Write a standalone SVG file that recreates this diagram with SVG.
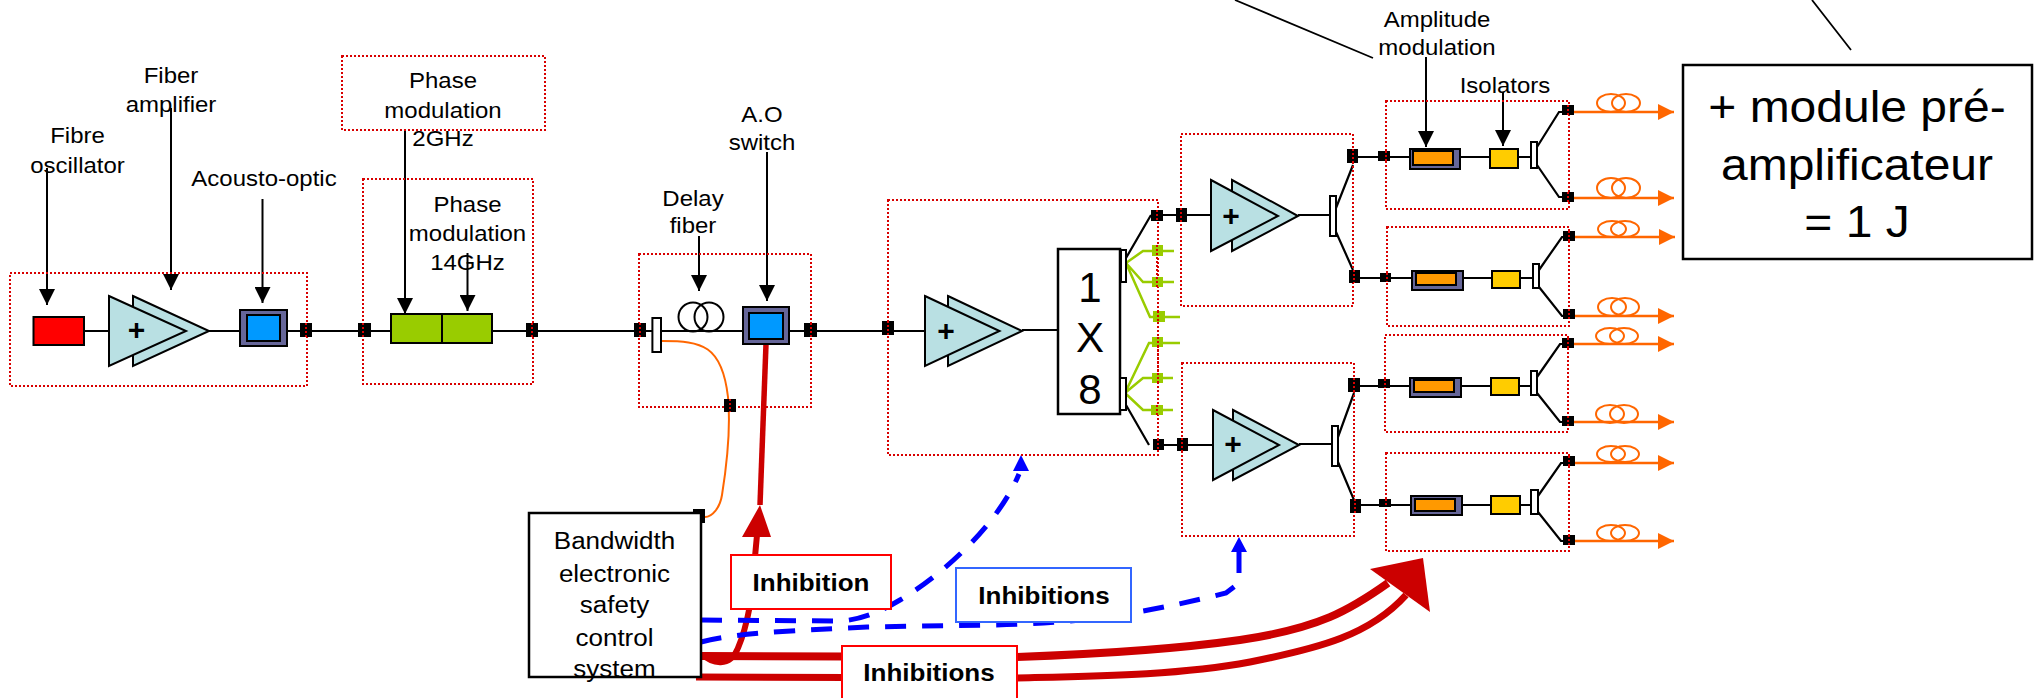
<svg xmlns="http://www.w3.org/2000/svg" width="2034" height="698" viewBox="0 0 2034 698">
<defs>
<marker id="ah" markerUnits="userSpaceOnUse" markerWidth="16" markerHeight="16" refX="16" refY="8" orient="auto"><path d="M0,0L16,8L0,16Z" fill="#000"/></marker>
<marker id="oh" markerUnits="userSpaceOnUse" markerWidth="16" markerHeight="16" refX="16" refY="8" orient="auto"><path d="M0,0L16,8L0,16Z" fill="#ff6600"/></marker>
<style>
text{font-family:"Liberation Sans",Arial,sans-serif;fill:#000;text-anchor:middle}
.t{font-size:24px}.c{font-size:26px}.b{font-size:26px;font-weight:bold}.n{font-size:48px}.x{font-size:42px}
.plus{font-size:30px;font-weight:bold}
.dot{fill:none;stroke:#d80000;stroke-width:2;stroke-dasharray:2 2}
.ln{fill:none;stroke:#000;stroke-width:2.2}
.thin{fill:none;stroke:#000;stroke-width:1.8}
.arr{fill:none;stroke:#000;stroke-width:2;marker-end:url(#ah)}
.gl{fill:none;stroke:#99cc00;stroke-width:2.5}
.oa{fill:none;stroke:#ff6600;stroke-width:2.5;marker-end:url(#oh)}
.coil{fill:none;stroke:#ff6600;stroke-width:2}
.bc{fill:none;stroke:#000;stroke-width:2}
.sq{fill:#000}.gs{fill:#99cc00}
.amp{fill:#b9e0e3;stroke:#000;stroke-width:2}
.cp{fill:#fff;stroke:#000;stroke-width:2}
.frame{fill:#666699;stroke:#000;stroke-width:2}
.blue{fill:#0099ff;stroke:#000;stroke-width:2}
.org{fill:#ff9900;stroke:#000;stroke-width:2}
.yel{fill:#ffcc00;stroke:#000;stroke-width:2}
.grn{fill:#99cc00;stroke:#000;stroke-width:2}
.red{fill:#ff0000;stroke:#000;stroke-width:2}
.box{fill:#fff;stroke:#000;stroke-width:2.5}
.rb{fill:#fff;stroke:#ff0000;stroke-width:2}
.bb{fill:#fff;stroke:#3366ff;stroke-width:2}
.dr{fill:none;stroke:#cc0000}
.db{fill:none;stroke:#0000ff;stroke-width:5;stroke-dasharray:21 16}
</style>
</defs>
<g id="connectors">
<path class="ln" d="M84,331H109M209,331H240M287,331H391M492,331H652M661,331H743M789,331H925M1022,330H1058M1163,215H1211M1164,445H1213"/>
<path class="ln" d="M1298,215H1330M1299,444H1332M1358,157H1410M1460,157H1490M1518,157H1531M1360,278H1412M1463,278H1492M1520,278H1533M1360,386H1410M1461,386H1491M1519,386H1531M1361,505H1411M1462,505H1491M1520,505H1531"/>
<path class="ln" d="M1126,258L1151,215M1126,405L1149,445M1336,208L1353,165M1336,232L1353,270M1338,437L1354,393M1338,462L1354,500"/>
<path class="ln" d="M1537,147L1559,112H1568M1537,165L1559,197H1568M1539,270L1562,237H1569M1539,287L1562,316H1569M1537,377L1560,344H1568M1537,393L1560,422H1568M1538,496L1561,463H1569M1538,512L1561,541H1569"/>
<path class="gl" d="M1126,263L1143,251H1174M1126,263L1143,282H1174M1126,263L1150,317H1180M1125,393L1149,343H1180M1125,393L1143,378H1173M1125,393L1143,410H1173"/>
<path class="oa" d="M1574,112H1674"/><path class="oa" d="M1574,198H1674"/>
<path class="oa" d="M1575,237H1675"/><path class="oa" d="M1575,316H1674"/>
<path class="oa" d="M1574,344H1674"/><path class="oa" d="M1574,422H1674"/>
<path class="oa" d="M1575,463H1674"/><path class="oa" d="M1575,541H1674"/>
<ellipse class="coil" cx="1611" cy="103" rx="14" ry="9"/><ellipse class="coil" cx="1626" cy="103" rx="14" ry="9"/>
<ellipse class="coil" cx="1611" cy="188" rx="14" ry="10"/><ellipse class="coil" cx="1626" cy="188" rx="14" ry="10"/>
<ellipse class="coil" cx="1612" cy="229" rx="14" ry="8"/><ellipse class="coil" cx="1625" cy="229" rx="14" ry="8"/>
<ellipse class="coil" cx="1612" cy="307" rx="14" ry="9"/><ellipse class="coil" cx="1625" cy="307" rx="14" ry="9"/>
<ellipse class="coil" cx="1610" cy="336" rx="14" ry="8"/><ellipse class="coil" cx="1624" cy="336" rx="14" ry="8"/>
<ellipse class="coil" cx="1610" cy="414" rx="14" ry="9"/><ellipse class="coil" cx="1624" cy="414" rx="14" ry="9"/>
<ellipse class="coil" cx="1611" cy="454" rx="14" ry="8"/><ellipse class="coil" cx="1625" cy="454" rx="14" ry="8"/>
<ellipse class="coil" cx="1611" cy="533" rx="14" ry="8"/><ellipse class="coil" cx="1625" cy="533" rx="14" ry="8"/>
<path d="M662,341C702,341 722,345 728,397C731,430 726,470 722,495C720,508 712,517 705,517" fill="none" stroke="#ff6600" stroke-width="2"/>
<path class="dr" stroke-width="5.5" d="M766,344L760,505"/>
<path class="dr" stroke-width="6" d="M702,654C712,664 730,668 738,648C746,630 749,610 751,600L757,535"/>
<path d="M760,505L771,537H742Z" fill="#cc0000"/>
<path class="dr" stroke-width="8" d="M701,656L1017,657C1100,654 1170,650 1240,640C1320,628 1350,610 1388,583"/>
<path class="dr" stroke-width="7" d="M696,677L1017,678C1100,676 1180,675 1250,662C1320,648 1370,635 1406,595"/>
<path d="M1370,569L1423,558L1430,612Z" fill="#cc0000"/>
<path class="db" d="M701,620L840,621C860,620 880,612 900,600C950,570 1000,520 1019,474"/>
<path d="M1021,455L1029,471H1013Z" fill="#0000ff"/>
<path class="db" d="M701,642C730,634 780,631 867,627L990,625C1080,624 1150,612 1226,593L1239,583V552"/>
<path d="M1239,537L1247,552H1231Z" fill="#0000ff"/>
<path class="thin" d="M1235,0L1373,58M1812,0L1851,50"/>
<path class="arr" d="M47,168V305"/><path class="arr" d="M171,108V290"/><path class="arr" d="M262.5,199V303"/>
<path class="arr" d="M405,130V314"/><path class="arr" d="M467.5,253V311"/><path class="arr" d="M699,236V291"/>
<path class="arr" d="M767,152V301"/><path class="arr" d="M1426,57V147"/><path class="arr" d="M1503,92V146"/>
</g>
<g id="labels">
<text class="t" transform="translate(77.5 143) scale(1 .92)">Fibre</text><text class="t" transform="translate(77.5 173) scale(1 .92)">oscillator</text>
<text class="t" transform="translate(171 83) scale(1 .92)">Fiber</text><text class="t" transform="translate(171 112) scale(1 .92)">amplifier</text>
<text class="t" transform="translate(264 186) scale(1 .92)">Acousto-optic</text>
<text class="t" transform="translate(443 88) scale(1 .92)">Phase</text><text class="t" transform="translate(443 118) scale(1 .92)">modulation</text><text class="t" transform="translate(443 146) scale(1 .92)">2GHz</text>
<text class="t" transform="translate(467.5 212) scale(1 .92)">Phase</text><text class="t" transform="translate(467.5 241) scale(1 .92)">modulation</text><text class="t" transform="translate(467.5 270) scale(1 .92)">14GHz</text>
<text class="t" transform="translate(693 206) scale(1 .92)">Delay</text><text class="t" transform="translate(693 233) scale(1 .92)">fiber</text>
<text class="t" transform="translate(762 122) scale(1 .92)">A.O</text><text class="t" transform="translate(762 150) scale(1 .92)">switch</text>
<text class="t" transform="translate(1437 27) scale(1 .92)">Amplitude</text><text class="t" transform="translate(1437 55) scale(1 .92)">modulation</text>
<text class="t" transform="translate(1505 93) scale(1 .92)">Isolators</text>
</g>
<g id="group-seed"><rect class="dot" x="10" y="273" width="297" height="113"/></g>
<g id="group-phase14"><rect class="dot" x="363" y="179" width="170" height="205"/></g>
<g id="group-phase2"><rect class="dot" x="342" y="56" width="203" height="74"/></g>
<g id="group-switch"><rect class="dot" x="639" y="254" width="172" height="153"/></g>
<g id="group-preamp"><rect class="dot" x="888" y="200" width="270" height="255"/></g>
<g id="group-amp-top"><rect class="dot" x="1181" y="134" width="172" height="172"/></g>
<g id="group-amp-bottom"><rect class="dot" x="1182" y="363" width="172" height="173"/></g>
<g id="group-mod-1"><rect class="dot" x="1386" y="101" width="183" height="108"/></g>
<g id="group-mod-2"><rect class="dot" x="1387" y="227" width="182" height="99"/></g>
<g id="group-mod-3"><rect class="dot" x="1385" y="335" width="183" height="97"/></g>
<g id="group-mod-4"><rect class="dot" x="1386" y="453" width="183" height="98"/></g>
<g id="oscillator"><rect class="red" x="33.5" y="317" width="50.5" height="28"/></g>
<g id="amp-1"><polygon class="amp" points="133,296 209,331 133,366"/><polygon class="amp" points="109,296 186,331 109,366"/><text class="plus" x="136.5" y="340">+</text></g>
<g id="ao-1"><rect class="frame" x="240" y="310" width="47" height="36"/><rect class="blue" x="247" y="315" width="33" height="26"/></g>
<g id="phase-mod"><rect class="grn" x="391" y="314" width="51" height="29"/><rect class="grn" x="442" y="314" width="50" height="29"/></g>
<g id="delay-fiber"><rect class="cp" x="652.4" y="318" width="8.6" height="34"/><circle class="bc" cx="693" cy="317" r="14.5"/><circle class="bc" cx="709" cy="317" r="14.5"/></g>
<g id="ao-2"><rect class="frame" x="743" y="307" width="46" height="37"/><rect class="blue" x="749" y="313" width="34" height="26"/></g>
<g id="amp-2"><polygon class="amp" points="948,296 1022,331 948,366"/><polygon class="amp" points="925,296 999.5,331 925,366"/><text class="plus" x="946" y="341">+</text></g>
<g id="splitter"><rect class="box" x="1058" y="249" width="62" height="165"/><text class="x" x="1090" y="302">1</text><text class="x" x="1090" y="352">X</text><text class="x" x="1090" y="404">8</text><rect class="cp" x="1121" y="250" width="5" height="32"/><rect class="cp" x="1120" y="378" width="6" height="32"/></g>
<g id="amp-3"><polygon class="amp" points="1232,180 1298,216 1232,251"/><polygon class="amp" points="1211,180 1278,216 1211,251"/><text class="plus" x="1231" y="226">+</text><rect class="cp" x="1330" y="196" width="6" height="40"/></g>
<g id="amp-4"><polygon class="amp" points="1233,410 1299,445 1233,480"/><polygon class="amp" points="1213,410 1279,445 1213,480"/><text class="plus" x="1233" y="454">+</text><rect class="cp" x="1332" y="426" width="6" height="40"/></g>
<g id="mod-1"><rect class="frame" x="1410" y="149" width="50" height="20"/><rect class="org" x="1413" y="151" width="40" height="14"/><rect class="yel" x="1490" y="149" width="28" height="19"/><rect class="cp" x="1531" y="142" width="6" height="26"/></g>
<g id="mod-2"><rect class="frame" x="1412" y="271" width="51" height="19"/><rect class="org" x="1416" y="273" width="40" height="12"/><rect class="yel" x="1492" y="271" width="28" height="17"/><rect class="cp" x="1533" y="264" width="6" height="24"/></g>
<g id="mod-3"><rect class="frame" x="1410" y="378" width="51" height="19"/><rect class="org" x="1414" y="380" width="40" height="12"/><rect class="yel" x="1491" y="378" width="28" height="17"/><rect class="cp" x="1531" y="371" width="6" height="24"/></g>
<g id="mod-4"><rect class="frame" x="1411" y="496" width="51" height="19"/><rect class="org" x="1415" y="499" width="40" height="12"/><rect class="yel" x="1491" y="496" width="29" height="18"/><rect class="cp" x="1531" y="490" width="7" height="24"/></g>
<g id="junctions">
<path class="sq" d="M300,323h12v14h-12zM358,323h13v14h-13zM526,323h12v14h-12zM634,323h12v14h-12zM804,323h13v14h-13zM724,399h12v13h-12zM882,321h12v14h-12zM1151,210h12v11h-12zM1176,208h11v14h-11zM1153,439h11v11h-11zM1177,438h11v13h-11zM1347,149h11v14h-11zM1349,270h11v13h-11zM1348,378h12v14h-12zM1350,499h11v14h-11zM1378,151h12v10h-12zM1380,273h11v9h-11zM1378,379h12v9h-12zM1379,499h12v8h-12zM1562,105h12v10h-12zM1562,192h12v10h-12zM1563,231h12v10h-12zM1563,309h12v10h-12zM1562,338h12v10h-12zM1562,416h12v10h-12zM1563,456h12v10h-12zM1563,535h12v10h-12zM693,509h12v14h-12z"/>
<path class="gs" d="M1152,245h11v11h-11zM1152,277h11v10h-11zM1153,311h12v11h-12zM1152,337h11v10h-11zM1152,373h11v10h-11zM1151,405h12v10h-12z"/>
<path class="dot" d="M306,323V337M363,323V337M532,323V337M640,323V337M811,323V337M730,399V412M888,321V335M1157,210V221M1157,245V287M1158,311V322M1158,337V383M1157,405V415M1181,208V222M1158,439V450M1182,438V451M1353,149V163M1354,270V283M1354,378V392M1355,499V513M1386,151V161M1387,273V282M1385,379V388M1386,499V507M1568,105V115M1568,192V202M1569,231V241M1569,309V319M1568,338V348M1568,416V426M1569,456V466M1569,535V545"/>
</g>
<g id="control-system"><rect class="box" x="529" y="513" width="172" height="164"/>
<text class="c" transform="translate(614.5 549) scale(1 .92)">Bandwidth</text><text class="c" transform="translate(614.5 582) scale(1 .92)">electronic</text><text class="c" transform="translate(614.5 613) scale(1 .92)">safety</text><text class="c" transform="translate(614.5 646) scale(1 .92)">control</text><text class="c" transform="translate(614.5 677) scale(1 .92)">system</text></g>
<g id="premodule"><rect class="box" x="1683" y="65" width="349" height="194"/>
<text class="n" transform="translate(1857 122) scale(1 .92)">+ module pré-</text><text class="n" transform="translate(1857 180) scale(1 .92)">amplificateur</text><text class="n" transform="translate(1857 237) scale(1 .92)">= 1 J</text></g>
<g id="inhibition-red"><rect class="rb" x="731" y="555" width="160" height="54"/><text class="b" transform="translate(811 591) scale(1 .92)">Inhibition</text></g>
<g id="inhibitions-blue"><rect class="bb" x="956" y="568" width="175" height="54"/><text class="b" transform="translate(1044 604) scale(1 .92)">Inhibitions</text></g>
<g id="inhibitions-red"><rect class="rb" x="842" y="646" width="175" height="56"/><text class="b" transform="translate(929 681) scale(1 .92)">Inhibitions</text></g>
</svg>
